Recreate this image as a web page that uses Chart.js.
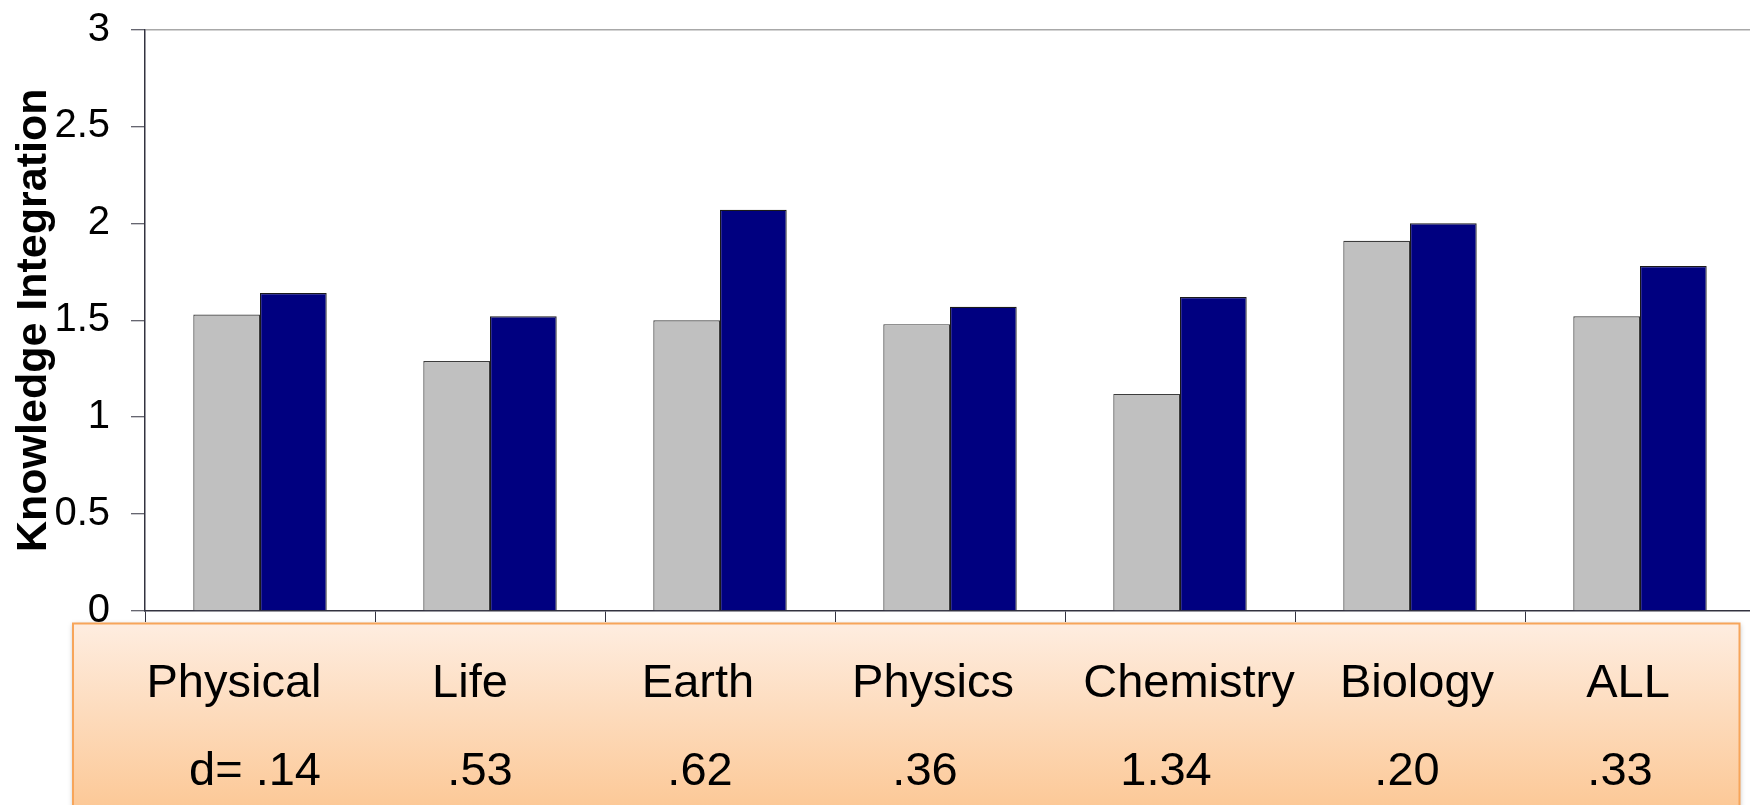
<!DOCTYPE html>
<html>
<head>
<meta charset="utf-8">
<script src="https://cdn.jsdelivr.net/npm/chart.js@4.4.1/dist/chart.umd.min.js"></script>
<style>
  html, body { margin: 0; padding: 0; background: #fff; overflow: hidden; width: 1750px; height: 805px; }
  #wrap { position: relative; width: 1760px; height: 805px; }
</style>
</head>
<body>
<div id="wrap"><canvas id="chart" width="1760" height="805"></canvas></div>
<script>
// Subject areas and the effect size reported for each
const categories = ['Physical', 'Life', 'Earth', 'Physics', 'Chemistry', 'Biology', 'ALL'];
const effectSizes = ['d= .14', '.53', '.62', '.36', '1.34', '.20', '.33'];

// Mean knowledge-integration scores for the two groups
const comparisonScores = [1.53, 1.29, 1.50, 1.48, 1.12, 1.91, 1.52];
const wiseScores = [1.64, 1.52, 2.07, 1.57, 1.62, 2.00, 1.78];

// Value axis ticks and their printed labels
const yTickValues = [0, 0.5, 1, 1.5, 2, 2.5, 3];
const yTickLabels = ['0', '0.5', '1', '1.5', '2', '2.5', '3'];

// Horizontal nudges of the panel text relative to each category centre
const nameNudge = [-26, -20, -22, -17, 9, 7, -12];
const effectNudge = [-5, -10, -20, -25, -14, -3, -20];

const FONT = '"Liberation Sans", Arial, Helvetica, sans-serif';

// Peach panel under the axis holding the subject names and effect sizes
const effectPanel = {
  id: 'effectPanel',
  afterDraw(chart) {
    const { ctx } = chart;
    const xs = chart.scales.x;
    const left = 73, top = 623.5, right = 1739.5, bottom = 815;
    ctx.save();
    const grad = ctx.createLinearGradient(0, top, 0, 805);
    grad.addColorStop(0, '#FEEDE0');
    grad.addColorStop(1, '#FCC998');
    ctx.shadowColor = 'rgba(0,0,0,0.28)';
    ctx.shadowBlur = 5;
    ctx.fillStyle = grad;
    ctx.fillRect(left, top, right - left, bottom - top);
    ctx.shadowColor = 'transparent';
    ctx.shadowBlur = 0;
    ctx.strokeStyle = '#F7A55A';
    ctx.lineWidth = 2;
    ctx.strokeRect(left, top, right - left, bottom - top);

    ctx.fillStyle = '#000';
    ctx.font = '47px ' + FONT;
    ctx.textAlign = 'center';
    ctx.textBaseline = 'alphabetic';
    categories.forEach((name, i) => {
      const cx = xs.getPixelForValue(i);
      ctx.fillText(name, cx + nameNudge[i], 697);
      ctx.fillText(effectSizes[i], cx + effectNudge[i], 785);
    });
    ctx.restore();
  }
};

new Chart(document.getElementById('chart'), {
  type: 'bar',
  data: {
    labels: categories,
    datasets: [
      {
        label: 'Comparison',
        data: comparisonScores,
        backgroundColor: '#C0C0C0',
        borderColor: '#3C3C3C',
        borderWidth: 1.2,
        categoryPercentage: 0.58,
        barPercentage: 1.0
      },
      {
        label: 'WISE',
        data: wiseScores,
        backgroundColor: '#000080',
        borderColor: '#1A1A1A',
        borderWidth: 1.2,
        categoryPercentage: 0.58,
        barPercentage: 1.0
      }
    ]
  },
  options: {
    responsive: false,
    animation: false,
    devicePixelRatio: 1,
    layout: { padding: { left: 0, top: 29.5, right: 5, bottom: 183 } },
    plugins: {
      legend: { display: false },
      tooltip: { enabled: false }
    },
    scales: {
      x: {
        grid: {
          offset: true,
          drawOnChartArea: false,
          tickColor: '#333340',
          tickLength: 11,
          tickWidth: 1
        },
        border: { color: '#333340', width: 1.5 },
        ticks: { display: false }
      },
      y: {
        min: 0,
        max: 3,
        afterFit(scale) {
          scale.width = 145;
          scale.paddingTop = 0;
          scale.paddingBottom = 0;
        },
        afterBuildTicks(scale) { scale.ticks = yTickValues.map(v => ({ value: v })); },
        grid: {
          color: (c) => (c.tick && c.tick.value === 3 ? '#A8A8A8' : 'transparent'),
          lineWidth: 1.5,
          tickColor: '#333340',
          tickLength: 14,
          tickWidth: 1
        },
        border: { color: '#333340', width: 1.5 },
        ticks: {
          color: '#000',
          padding: 21,
          font: { family: FONT, size: 40 },
          callback: (v, i) => yTickLabels[i]
        },
        title: {
          display: true,
          text: 'Knowledge Integration',
          color: '#000',
          padding: { top: 8, bottom: 0 },
          font: { family: FONT, size: 43, weight: 'bold' }
        }
      }
    }
  },
  plugins: [effectPanel]
});
</script>
</body>
</html>
